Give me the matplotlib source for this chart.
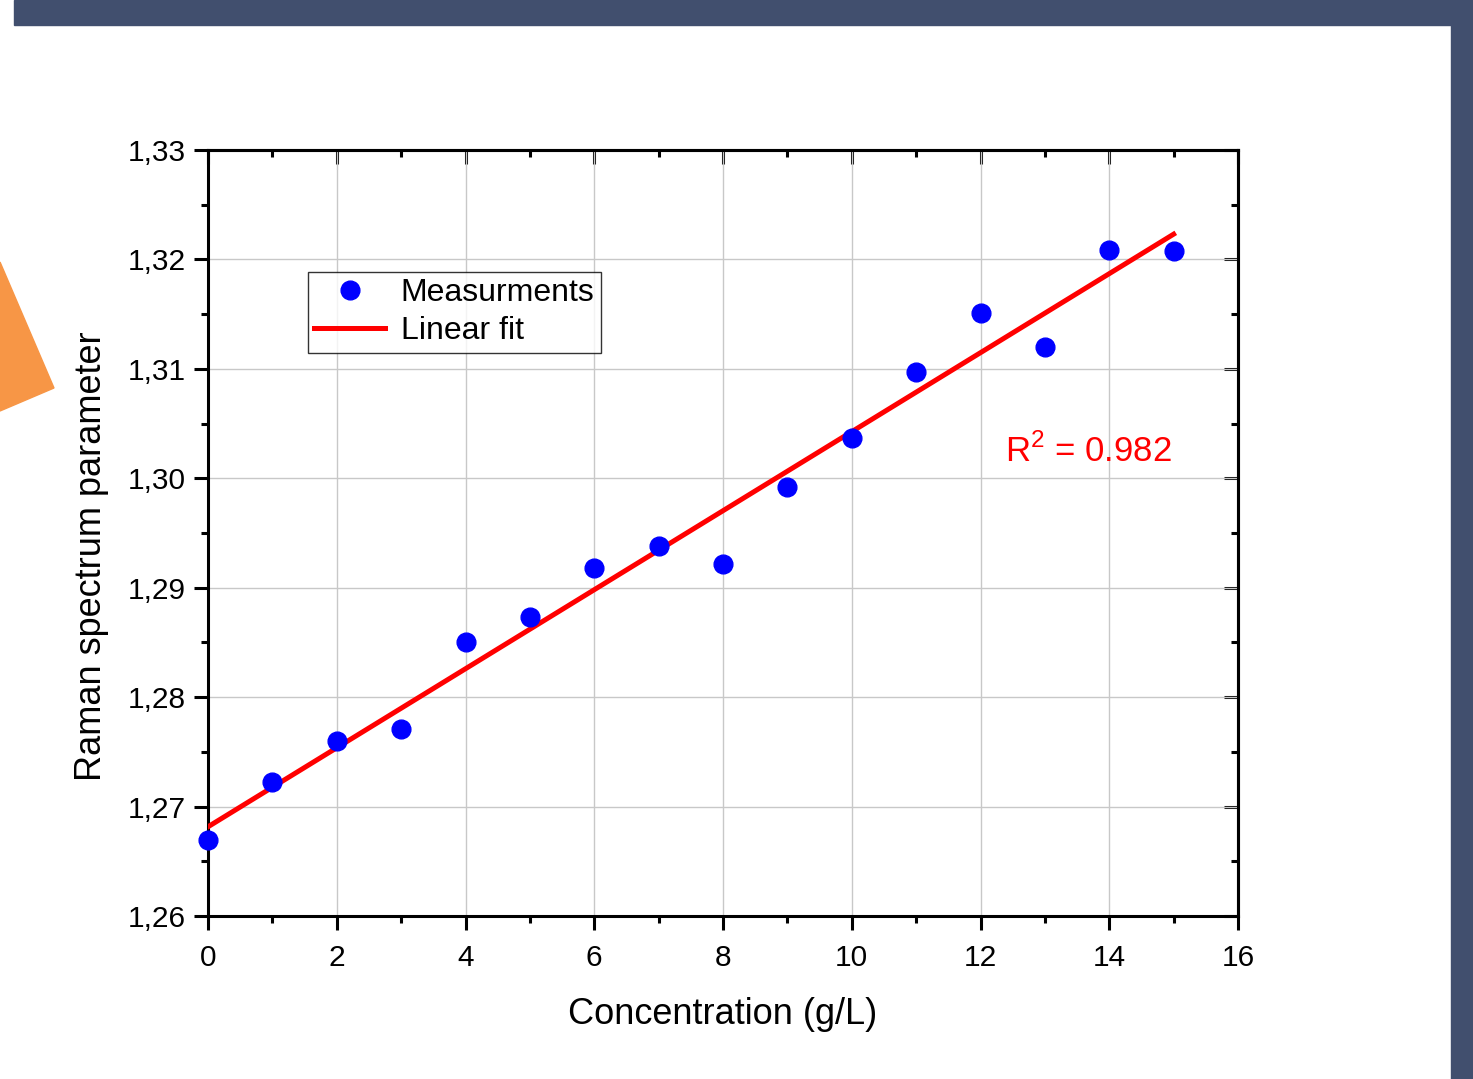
import numpy as np
import matplotlib
matplotlib.use('Agg')
import matplotlib.pyplot as plt
from matplotlib.patches import Rectangle, Polygon
from matplotlib.ticker import FuncFormatter, MultipleLocator

plt.rcParams['font.family'] = ['Liberation Sans', 'DejaVu Sans']
plt.rcParams['mathtext.fontset'] = 'custom'
plt.rcParams['mathtext.rm'] = 'Liberation Sans'

# data
conc = [0, 1, 2, 3, 4, 5, 6, 7, 8, 9, 10, 11, 12, 13, 14, 15]
raman = [1.2669, 1.2722, 1.2760, 1.2771, 1.2850, 1.2873, 1.2918, 1.2938,
         1.2922, 1.2992, 1.3037, 1.3097, 1.3151, 1.3120, 1.3209, 1.3208]
fit_x = [0, 15]
r2_text = r'R$^2$ = 0.982'

W, H = 1473, 1079
fig = plt.figure(figsize=(W / 100, H / 100), dpi=100)

def px(x, y):
    return (x / W, 1 - y / H)

# slide decorations
band = '#414F6E'
fig.patches.append(Rectangle(px(14, 25), 1 - 14 / W, 25 / H, transform=fig.transFigure,
                             color=band, zorder=0))
fig.patches.append(Rectangle(px(1451, 1079), 22 / W, 1, transform=fig.transFigure,
                             color=band, zorder=0))
fig.patches.append(Polygon([px(0, 262), px(54, 388), px(0, 411)], closed=True,
                           transform=fig.transFigure, color='#F79646', zorder=0))

ax = fig.add_axes([208 / W, 1 - 916 / H, (1238 - 208) / W, (916 - 150) / H])

slope, icpt = np.polyfit(conc, raman, 1)
fx = np.array(fit_x, dtype=float)
ax.plot(fx, slope * fx + icpt, color='red', lw=3.6, label='Linear fit', zorder=3)
ax.plot(conc, raman, 'o', color='blue', ms=13.5, label='Measurments', zorder=4,
        clip_on=False)

ax.set_xlim(0, 16)
ax.set_ylim(1.26, 1.33)
ax.xaxis.set_major_locator(MultipleLocator(2))
ax.xaxis.set_minor_locator(MultipleLocator(1))
ax.yaxis.set_major_locator(MultipleLocator(0.01))
ax.yaxis.set_minor_locator(MultipleLocator(0.005))
ax.yaxis.set_major_formatter(FuncFormatter(lambda v, p: f'{v:.2f}'.replace('.', ',')))
ax.grid(True, which='major', color='#C8C8C8', lw=1.0)
ax.set_axisbelow(True)

for s in ax.spines.values():
    s.set_linewidth(2.2)
ax.tick_params(which='major', direction='out', length=10, width=2.2, labelsize=21.5)
ax.tick_params(axis='x', which='major', pad=10)
ax.tick_params(axis='y', which='major', pad=6)
ax.tick_params(which='minor', direction='out', length=5, width=2.2)

top = ax.secondary_xaxis('top')
top.xaxis.set_major_locator(MultipleLocator(2))
top.xaxis.set_minor_locator(MultipleLocator(1))
top.tick_params(which='major', direction='in', length=10, width=2.2, labeltop=False)
top.tick_params(which='minor', direction='in', length=5, width=2.2)
top.spines['top'].set_linewidth(2.2)
right = ax.secondary_yaxis('right')
right.yaxis.set_major_locator(MultipleLocator(0.01))
right.yaxis.set_minor_locator(MultipleLocator(0.005))
right.tick_params(which='major', direction='in', length=10, width=2.2, labelright=False)
right.tick_params(which='minor', direction='in', length=5, width=2.2)
right.spines['right'].set_linewidth(2.2)

ax.set_xlabel('Concentration (g/L)', fontsize=26, labelpad=18)
ax.set_ylabel('Raman spectrum parameter', fontsize=26)
ax.yaxis.set_label_coords(-0.096, 0.47)

h, l = ax.get_legend_handles_labels()
leg = ax.legend(h[::-1], l[::-1], loc='upper left', bbox_to_anchor=((308 - 208) / 1030, (916 - 272) / 766),
                fontsize=23, frameon=True, fancybox=False, borderpad=0.2,
                handlelength=2.2, handletextpad=0.5, labelspacing=0.25, borderaxespad=0)
leg.get_frame().set_edgecolor('black')
leg.get_frame().set_linewidth(1.0)

ax.text(12.38, 1.3025, r2_text, color='red', fontsize=25, ha='left', va='center')

fig.savefig('out.png', dpi=100)
